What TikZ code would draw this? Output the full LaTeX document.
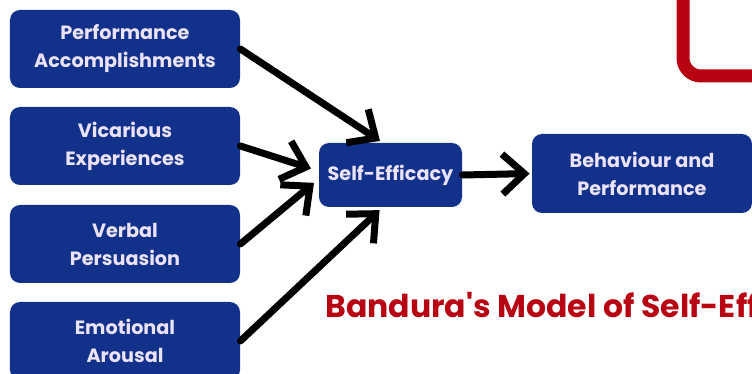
\documentclass[tikz,border=0pt]{standalone}
\usepackage{fontspec}
\setmainfont{Poppins}
\usepackage{xcolor}
\usetikzlibrary{arrows.meta}

\definecolor{boxblue}{RGB}{18,49,138}
\definecolor{boxtext}{RGB}{234,226,246}
\definecolor{titlered}{RGB}{184,4,18}

\tikzset{
  factor/.style={fill=boxblue, text=boxtext, rounded corners=5pt, align=center,
    minimum width=115pt, minimum height=39pt, inner sep=2pt,
    font=\bfseries\fontsize{9.6}{14}\selectfont},
  link/.style={-{Straight Barb[length=11pt,width=20pt]}, line width=3.5pt, line cap=round}
}

\begin{document}
\begin{tikzpicture}[x=0.5pt,y=-0.5pt]
            \path[use as bounding box, clip] (0,0) rectangle (752,374);
            \draw[titlered, line width=6.5pt, rounded corners=9pt] (683,-20) -- (683,76) -- (780,76);
            \node[factor] (pa) at (125,49) {Performance\\Accomplishments};
            \node[factor] (ve) at (125,146) {Vicarious\\Experiences};
            \node[factor] (vp) at (125,244) {Verbal\\Persuasion};
            \node[factor] (ea) at (125,341) {Emotional\\Arousal};
            \node[factor, minimum width=71.5pt, minimum height=32pt] (se) at (390.5,175) {Self-Efficacy};
            \node[factor, minimum width=110pt, minimum height=39.5pt] (bp) at (642,173.5) {Behaviour and\\Performance};
            \draw[link, shorten >=1.5pt] (pa.east) -- ([xshift=-4pt]se.north);
            \draw[link, shorten >=4pt] (ve.east) -- ([yshift=2pt]se.west);
            \draw[link, shorten >=3pt] (vp.east) -- ([yshift=-2pt]se.west);
            \draw[link, shorten >=2pt] (ea.east) -- ([xshift=-4pt]se.south);
            \draw[link, shorten >=1pt] (se.east) -- (bp.west);
            \node[anchor=base west, inner sep=0pt, text=titlered, font=\bfseries\fontsize{15.75}{18}\selectfont] (title) at (325,318) {Bandura\textquotesingle s Model of Self-Efficacy};
        \end{tikzpicture}
\end{document}
